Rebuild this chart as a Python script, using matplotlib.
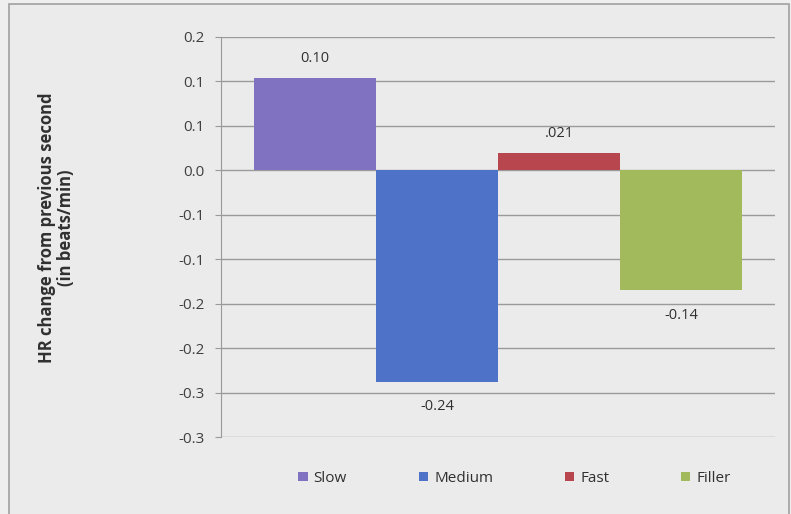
import numpy as np
import matplotlib.pyplot as plt
from matplotlib.patches import Rectangle

plt.rcParams['font.family'] = ['Open Sans', 'DejaVu Sans']

categories = ["Slow", "Medium", "Fast", "Filler"]
values = [0.104, -0.238, 0.020, -0.135]
value_labels = ["0.10", "-0.24", ".021", "-0.14"]
colors = ["#8072c0", "#4f72c9", "#b8464e", "#a2b95c"]

ytick_values = [0.15, 0.10, 0.05, 0.00, -0.05, -0.10, -0.15, -0.20, -0.25, -0.30]
ytick_labels = ["0.2", "0.1", "0.1", "0.0", "-0.1", "-0.1", "-0.2", "-0.2", "-0.3", "-0.3"]

W, H = 791, 514
bg = "#ebebeb"
fig = plt.figure(figsize=(W / 100, H / 100), dpi=100)
fig.patch.set_facecolor("#efefef")

# chart frame, kept behind the axes
fig.patches.append(Rectangle((9 / W, -0.01), 780 / W, (H - 4) / H + 0.01,
                             transform=fig.transFigure, facecolor=bg,
                             edgecolor="#a0a0a0", linewidth=1.2, zorder=-5))

ax = fig.add_axes([221 / W, (H - 437) / H, (775 - 221) / W, 400 / H])
ax.set_zorder(2)
ax.set_facecolor(bg)

x = np.arange(len(categories))
bars = ax.bar(x, values, width=1.0, color=colors, label=categories, zorder=3)

ax.set_ylim(-0.30, 0.15)
ax.set_xlim(-0.5 - 0.27, len(categories) - 0.5 + 0.27)
ax.set_yticks(ytick_values)
ax.set_yticklabels(ytick_labels, fontsize=11, color="#404040")
ax.set_xticks([])
ax.yaxis.grid(True, color="#9a9a9a", linewidth=1.0, zorder=0)
ax.set_axisbelow(True)
ax.tick_params(axis="y", length=4, color="#9a9a9a", pad=8)
for s in ["top", "right", "bottom"]:
    ax.spines[s].set_visible(False)
ax.spines["left"].set_color("#9a9a9a")

for b, v, lab in zip(bars, values, value_labels):
    off = 14 if v >= 0 else -18
    ax.annotate(lab, (b.get_x() + b.get_width() / 2, v), xytext=(0, off),
                textcoords="offset points", ha="center", va="center",
                fontsize=10.5, color="#303030")

ax.set_ylabel("HR change from previous second\n(in beats/min)", fontsize=12,
              fontweight="bold", color="#303030", linespacing=1.1)
ax.yaxis.set_label_coords(-0.2635, 0.5225)

ax.legend(handles=bars, labels=categories, loc="upper center",
          bbox_to_anchor=(0.53, -0.05), ncol=4, frameon=False, fontsize=11,
          handlelength=0.6, handleheight=0.6, handletextpad=0.4,
          columnspacing=4.7, labelcolor="#303030")

fig.savefig("out.png", dpi=100, facecolor=fig.get_facecolor())
